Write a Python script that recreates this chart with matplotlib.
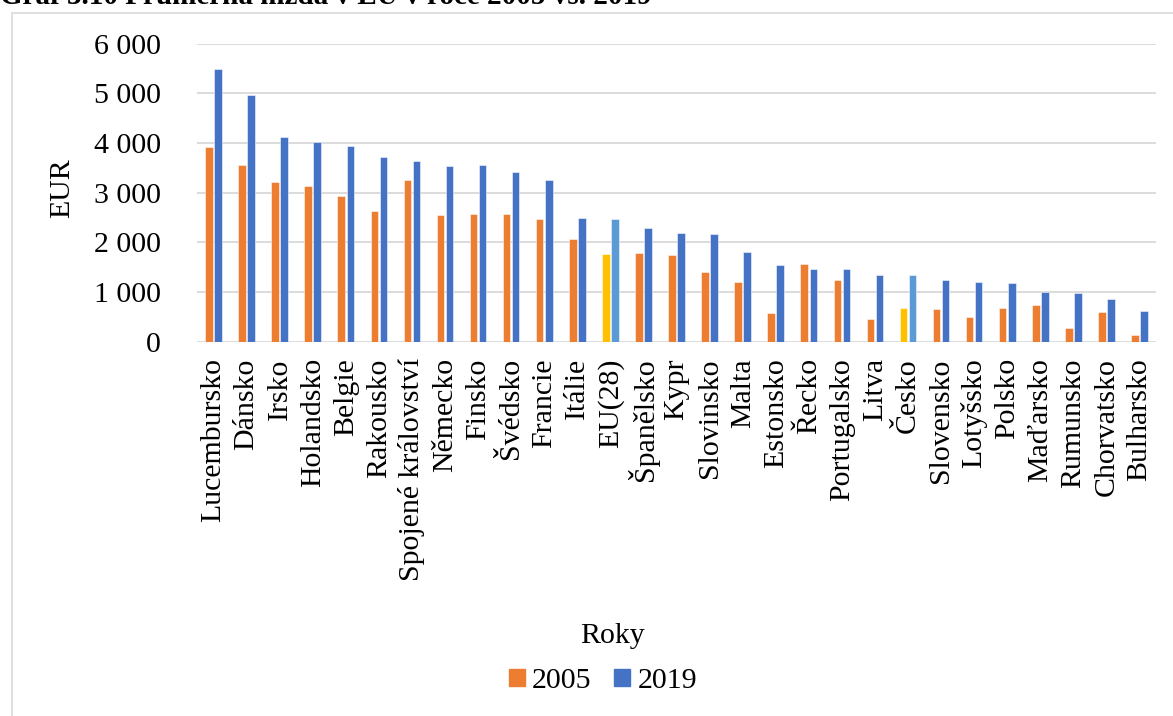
import matplotlib
matplotlib.use("Agg")
import matplotlib.pyplot as plt
import matplotlib.patches as mpatches
import numpy as np

countries = ["Lucembursko", "Dánsko", "Irsko", "Holandsko", "Belgie", "Rakousko",
             "Spojené království", "Německo", "Finsko", "Švédsko", "Francie", "Itálie",
             "EU(28)", "Španělsko", "Kypr", "Slovinsko", "Malta", "Estonsko", "Řecko",
             "Portugalsko", "Litva", "Česko", "Slovensko", "Lotyšsko", "Polsko",
             "Maďarsko", "Rumunsko", "Chorvatsko", "Bulharsko"]
wage_2005 = [3918, 3562, 3212, 3132, 2923, 2634, 3246, 2554, 2567, 2574, 2473, 2063,
             1754, 1781, 1747, 1391, 1190, 565, 1559, 1243, 457, 685, 659, 491, 685,
             726, 276, 591, 141]
wage_2019 = [5484, 4973, 4126, 4026, 3931, 3716, 3642, 3535, 3548, 3414, 3253, 2493,
             2460, 2285, 2191, 2157, 1794, 1546, 1458, 1458, 1344, 1331, 1243, 1203, 1176,
             995, 981, 853, 605]
highlight = ["EU(28)", "Česko"]
yticks = [0, 1000, 2000, 3000, 4000, 5000, 6000]
ytick_labels = ["0", "1 000", "2 000", "3 000", "4 000", "5 000", "6 000"]
title = "Graf 3.10 Průměrná mzda v EU v roce 2005 vs. 2019"

C_ORANGE = "#ED7D31"
C_BLUE = "#4472C4"
C_YELLOW = "#FFC000"
C_LBLUE = "#5B9BD5"
GRID = "#D9D9D9"

plt.rcParams["font.family"] = ["Liberation Serif", "DejaVu Serif"]
W, H = 1173, 716
fig = plt.figure(figsize=(W / 100, H / 100), dpi=100)

left, right, top, bottom = 197, 1156, 43.7, 341.5
ax = fig.add_axes([left / W, 1 - bottom / H, (right - left) / W, (bottom - top) / H])

x = np.arange(len(countries))
c05 = [C_YELLOW if c in highlight else C_ORANGE for c in countries]
c19 = [C_LBLUE if c in highlight else C_BLUE for c in countries]
bw = 0.23
off = 0.137
ax.bar(x - off, wage_2005, width=bw, color=c05, edgecolor=(1, 1, 1, 0.6), linewidth=0.6, zorder=3)
ax.bar(x + off, wage_2019, width=bw, color=c19, edgecolor=(1, 1, 1, 0.6), linewidth=0.6, zorder=3)

ax.set_xlim(-0.5, len(countries) - 0.5)
ax.set_ylim(0, 6000)
ax.set_yticks(yticks)
ax.set_yticklabels(ytick_labels, fontsize=21.5)
ax.set_xticks(x)
ax.set_xticklabels(countries, rotation=90, fontsize=21.5)
ax.tick_params(axis="y", length=0, pad=26)
ax.tick_params(axis="x", length=0, pad=12)
for s in ax.spines.values():
    s.set_visible(False)
ax.grid(axis="y", color=GRID, linewidth=1.3, zorder=0)
ax.set_axisbelow(True)

fig.text(62.5 / W, 1 - 188 / H, "EUR", rotation=90, ha="center", va="center", fontsize=21.5)
fig.text(612.5 / W, 1 - 643 / H, "Roky", ha="center", va="baseline", fontsize=21.5)

handles = [mpatches.Patch(color=C_ORANGE, label="2005"), mpatches.Patch(color=C_BLUE, label="2019")]
fig.legend(handles=handles, loc="center", bbox_to_anchor=(603 / W, 1 - 681 / H), ncol=2,
           frameon=False, fontsize=21.5, handlelength=0.53, handleheight=0.53,
           handletextpad=0.25, columnspacing=0.75, borderpad=0, borderaxespad=0)

# outer chart frame
frame = mpatches.Rectangle((12 / W, -0.5), 2, 1.5 - 12.7 / H, transform=fig.transFigure,
                           fill=False, edgecolor=GRID, linewidth=1.2, zorder=0)
fig.patches.append(frame)

# cut-off title at the top
t = fig.text(0 / W, 1 - 4.5 / H, title, ha="left", va="baseline", fontsize=20, fontweight="bold")
fig.canvas.draw()
bb = t.get_window_extent()
t.set_fontsize(20 * 653 / bb.width)

fig.savefig("out.png", dpi=100)
